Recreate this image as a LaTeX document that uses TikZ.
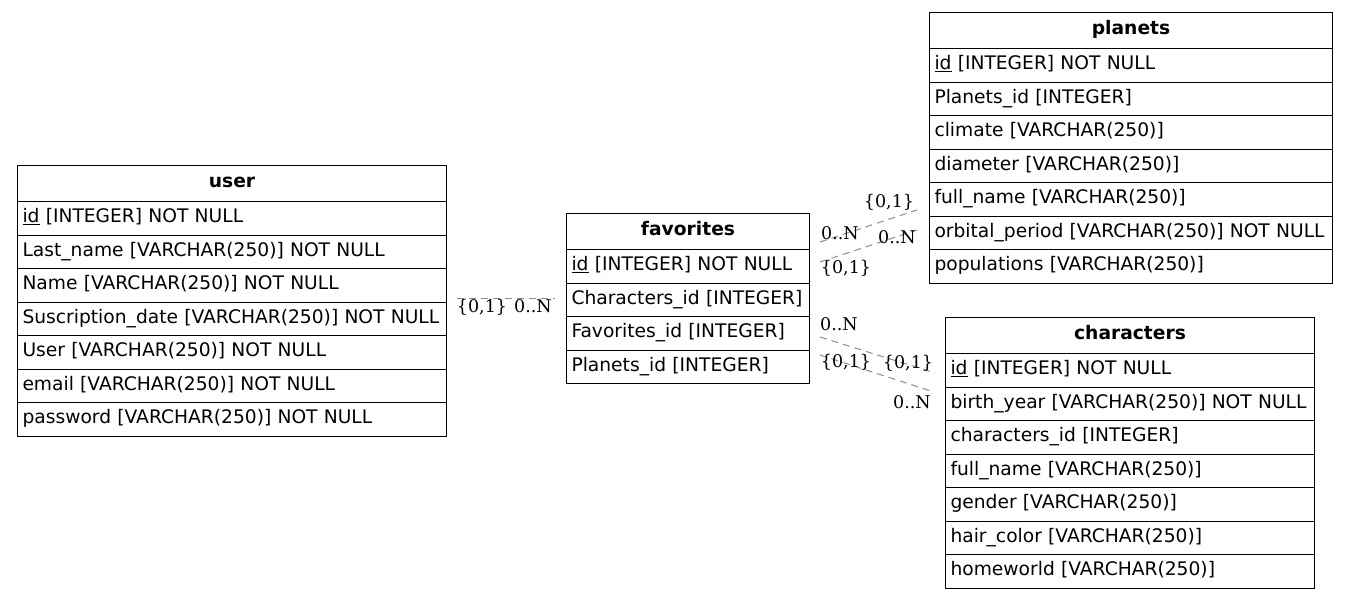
\documentclass[tikz,border=0pt]{standalone}
\usepackage{fontspec}
\newfontfamily\tabfont{DejaVu Sans}
\newfontfamily\lblfont{DejaVu Serif}
\begin{document}
\begin{tikzpicture}[x=1pt,y=-1pt,
  hdr/.style={draw, line width=1pt, anchor=north west, minimum height=36pt, inner sep=0pt,
    font=\tabfont\bfseries\fontsize{18.67}{22}\selectfont, text height=14pt, text depth=6pt},
  fld/.style={draw, line width=1pt, anchor=north west, minimum height=33.5pt, inner xsep=5pt, inner ysep=0pt,
    align=left, font=\tabfont\fontsize{18.67}{22}\selectfont, text height=14pt, text depth=4.9pt},
  rel/.style={draw=black!45, line width=1pt, dash pattern=on 7pt off 5pt},
  card/.style={font=\lblfont\fontsize{17.5}{22}\selectfont, inner sep=0pt, anchor=base}]
\useasboundingbox (0,0) rectangle (1348,597);
\fill[white] (0,0) rectangle (1348,597);
% user
\node[hdr, minimum width=429pt] (user) at (17,165) {user};
\begin{scope}[every node/.append style={text width=419pt}]
\node[fld] (user1) at (17,201) {\underline{id} [INTEGER] NOT NULL};
\node[fld] (user2) at (17,234.5) {Last\_name [VARCHAR(250)] NOT NULL};
\node[fld] (user3) at (17,268) {Name [VARCHAR(250)] NOT NULL};
\node[fld] (user4) at (17,301.5) {Suscription\_date [VARCHAR(250)] NOT NULL};
\node[fld] (user5) at (17,335) {User [VARCHAR(250)] NOT NULL};
\node[fld] (user6) at (17,368.5) {email [VARCHAR(250)] NOT NULL};
\node[fld] (user7) at (17,402) {password [VARCHAR(250)] NOT NULL};
\end{scope}
% favorites
\node[hdr, minimum width=243pt] (fav) at (566,213) {favorites};
\begin{scope}[every node/.append style={text width=233pt}]
\node[fld] (fav1) at (566,249) {\underline{id} [INTEGER] NOT NULL};
\node[fld] (fav2) at (566,282.5) {Characters\_id [INTEGER]};
\node[fld] (fav3) at (566,316) {Favorites\_id [INTEGER]};
\node[fld] (fav4) at (566,349.5) {Planets\_id [INTEGER]};
\end{scope}
% planets
\node[hdr, minimum width=403pt] (pla) at (929,12) {planets};
\begin{scope}[every node/.append style={text width=393pt}]
\node[fld] (pla1) at (929,48) {\underline{id} [INTEGER] NOT NULL};
\node[fld] (pla2) at (929,81.5) {Planets\_id [INTEGER]};
\node[fld] (pla3) at (929,115) {climate [VARCHAR(250)]};
\node[fld] (pla4) at (929,148.5) {diameter [VARCHAR(250)]};
\node[fld] (pla5) at (929,182) {full\_name [VARCHAR(250)]};
\node[fld] (pla6) at (929,215.5) {orbital\_period [VARCHAR(250)] NOT NULL};
\node[fld] (pla7) at (929,249) {populations [VARCHAR(250)]};
\end{scope}
% characters
\node[hdr, minimum width=369pt] (cha) at (945,317) {characters};
\begin{scope}[every node/.append style={text width=359pt}]
\node[fld] (cha1) at (945,353) {\underline{id} [INTEGER] NOT NULL};
\node[fld] (cha2) at (945,386.5) {birth\_year [VARCHAR(250)] NOT NULL};
\node[fld] (cha3) at (945,420) {characters\_id [INTEGER]};
\node[fld] (cha4) at (945,453.5) {full\_name [VARCHAR(250)]};
\node[fld] (cha5) at (945,487) {gender [VARCHAR(250)]};
\node[fld] (cha6) at (945,520.5) {hair\_color [VARCHAR(250)]};
\node[fld] (cha7) at (945,554) {homeworld [VARCHAR(250)]};
\end{scope}
% relations
\coordinate (ua) at (457,298); \coordinate (ub) at (555,298);
\draw[rel] (ua) -- (ub);
\node[card] (l1) at (482,312) {\{0,1\}};
\node[card] (l2) at (533,312) {0..N};
\coordinate (pa1) at (820,242); \coordinate (pa2) at (917,210);
\draw[rel] (pa1) -- (pa2);
\node[card] (l3) at (840,239) {0..N};
\node[card] (l4) at (889,207) {\{0,1\}};
\coordinate (pb1) at (820,262); \coordinate (pb2) at (917,230);
\draw[rel] (pb1) -- (pb2);
\node[card] (l5) at (846,273) {\{0,1\}};
\node[card] (l6) at (897,243) {0..N};
\coordinate (ca1) at (820,337); \coordinate (ca2) at (935,373);
\draw[rel] (ca1) -- (ca2);
\node[card] (l7) at (839,330) {0..N};
\node[card] (l8) at (908,368) {\{0,1\}};
\coordinate (cb1) at (820,355); \coordinate (cb2) at (934,392);
\draw[rel] (cb1) -- (cb2);
\node[card] (l9) at (846,367) {\{0,1\}};
\node[card] (l10) at (912,408) {0..N};
\end{tikzpicture}
\end{document}
